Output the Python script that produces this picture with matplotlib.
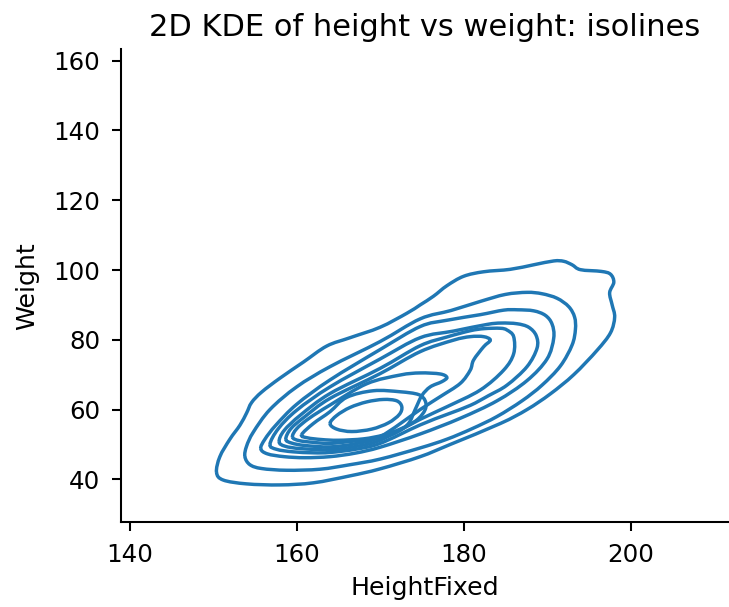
import matplotlib
matplotlib.use("Agg")
import matplotlib.pyplot as plt
import numpy as np
from matplotlib.path import Path
from matplotlib.patches import PathPatch

# isoline vertices (HeightFixed, Weight), outermost level first
level1_x = [150.4, 151.2, 154.0, 158.0, 162.0, 166.4, 170.0, 174.8, 178.4, 184.4, 187.6, 190.4, 193.2, 196.0,
            197.6, 198.1, 197.8, 197.5, 198.0, 197.6, 196.5, 194.0, 193.0, 192.0, 190.8, 188.4, 185.6, 182.4,
            180.0, 178.0, 176.4, 174.8, 173.2, 170.0, 166.4, 163.6, 160.8, 158.0, 155.8, 154.6, 154.0, 153.2,
            152.0, 150.8, 150.4]
level1_y = [42.0, 39.8, 38.7, 38.4, 39.0, 41.0, 43.0, 46.5, 50.0, 56.0, 60.0, 64.5, 70.0, 77.0,
            82.0, 86.5, 90.0, 93.5, 96.5, 98.8, 99.6, 100.1, 101.5, 102.5, 102.6, 101.5, 100.2, 99.5,
            98.2, 95.5, 92.5, 90.0, 87.6, 83.6, 80.6, 78.2, 73.6, 69.0, 65.0, 62.0, 59.0, 55.5,
            51.5, 46.5, 42.0]

level2_x = [153.8, 154.4, 155.8, 158.8, 162.8, 166.4, 170.0, 174.8, 178.0, 181.0, 184.0, 187.0, 189.4, 191.6,
            193.0, 193.4, 193.3, 192.6, 191.2, 189.4, 187.6, 185.0, 182.0, 178.5, 174.8, 170.0, 164.0, 160.0,
            156.8, 154.8, 154.0, 153.8]
level2_y = [46.5, 44.2, 43.1, 42.6, 42.9, 44.2, 45.8, 49.0, 51.5, 54.5, 58.0, 62.5, 67.0, 72.5,
            78.5, 83.0, 86.5, 89.5, 91.9, 93.2, 93.6, 93.0, 91.0, 88.4, 86.0, 79.5, 72.3, 66.5,
            60.0, 53.5, 49.5, 46.5]

level3_x = [155.7, 156.5, 158.5, 161.0, 164.0, 167.0, 170.0, 174.8, 179.6, 184.0, 187.6, 190.0, 190.8, 190.6,
            189.8, 188.4, 186.5, 184.8, 182.0, 178.0, 174.8, 170.0, 164.0, 160.0, 157.5, 156.2, 155.7]
level3_y = [48.8, 47.3, 46.5, 46.2, 46.5, 47.5, 49.2, 53.0, 57.5, 62.5, 68.3, 74.5, 80.5, 84.5,
            87.0, 88.3, 88.6, 88.5, 87.2, 85.6, 83.8, 77.2, 68.5, 61.5, 55.5, 51.5, 48.8]

level4_x = [156.8, 157.6, 159.5, 162.0, 164.0, 167.0, 170.0, 174.8, 178.0, 180.8, 183.0, 185.2, 187.6, 188.8,
            188.7, 187.8, 186.4, 184.5, 182.8, 178.8, 174.8, 170.0, 164.0, 160.0, 157.8, 156.8]
level4_y = [50.0, 48.6, 47.9, 47.6, 47.7, 48.6, 50.3, 55.6, 58.6, 61.2, 64.0, 67.0, 72.3, 77.6,
            81.2, 83.6, 84.6, 84.8, 84.4, 82.5, 80.6, 74.5, 66.5, 59.8, 54.5, 50.0]

level5_x = [157.9, 158.6, 160.5, 164.0, 167.0, 170.0, 174.8, 178.0, 182.0, 184.8, 186.0, 186.0, 185.2, 184.4,
            182.5, 180.8, 178.0, 174.8, 170.0, 164.0, 160.5, 158.5, 157.9]
level5_y = [50.8, 49.5, 48.8, 48.5, 49.4, 51.2, 57.2, 60.8, 65.6, 71.3, 76.0, 80.9, 82.8, 83.3,
            83.2, 82.6, 80.8, 78.3, 71.8, 64.6, 58.5, 54.0, 50.8]

level6_x = [158.7, 159.4, 161.0, 164.0, 167.0, 170.0, 174.8, 177.2, 179.6, 180.8, 181.2, 182.4, 183.2, 182.4,
            180.8, 178.8, 174.8, 170.0, 164.0, 161.0, 159.3, 158.7]
level6_y = [51.5, 50.4, 49.7, 49.3, 50.2, 52.2, 60.0, 63.7, 67.5, 71.3, 74.2, 78.0, 79.9, 80.9,
            80.9, 79.9, 76.6, 70.3, 63.2, 58.0, 54.5, 51.5]

level7_x = [159.5, 160.3, 162.0, 164.0, 167.0, 170.0, 172.0, 173.4, 174.2, 175.0, 176.0, 177.4, 178.0, 177.2,
            174.8, 172.4, 168.4, 164.0, 161.5, 160.0, 159.5]
level7_y = [52.1, 51.1, 50.6, 50.3, 51.0, 51.8, 53.5, 56.0, 60.0, 64.0, 66.5, 68.0, 69.2, 70.2,
            70.5, 69.9, 67.4, 61.3, 57.5, 54.5, 52.1]

level8_x = [160.6, 161.3, 163.0, 165.0, 168.0, 170.4, 172.5, 174.4, 175.4, 175.4, 174.6, 172.4, 169.2, 166.0,
            164.0, 162.0, 160.6]
level8_y = [52.8, 51.9, 51.4, 51.2, 51.6, 52.7, 54.5, 57.0, 60.0, 62.5, 64.3, 65.1, 65.4, 63.5,
            59.4, 56.0, 52.8]

level9_x = [164.0, 164.8, 166.4, 168.4, 170.4, 172.0, 172.6, 172.3, 171.0, 169.0, 166.6, 164.8, 164.0]
level9_y = [56.0, 58.3, 60.6, 62.2, 62.9, 62.5, 60.8, 58.6, 56.2, 54.4, 53.7, 54.4, 56.0]

levels = [
    (level1_x, level1_y), (level2_x, level2_y), (level3_x, level3_y),
    (level4_x, level4_y), (level5_x, level5_y), (level6_x, level6_y),
    (level7_x, level7_y), (level8_x, level8_y), (level9_x, level9_y),
]


# smooth closed curve through the read vertices (Catmull-Rom as cubic Beziers)
def closed_curve(xs, ys):
    p = np.column_stack([xs, ys])[:-1]
    n = len(p)
    verts = [p[0]]
    codes = [Path.MOVETO]
    for i in range(n):
        p0, p1, p2, p3 = p[i - 1], p[i], p[(i + 1) % n], p[(i + 2) % n]
        verts += [p1 + (p2 - p0) / 6, p2 - (p3 - p1) / 6, p2]
        codes += [Path.CURVE4] * 3
    return Path(verts, codes)


dpi = 165
plt.rcParams["xtick.major.size"] = 4
plt.rcParams["ytick.major.size"] = 4
plt.rcParams["xtick.major.pad"] = 5
plt.rcParams["ytick.major.pad"] = 5
plt.rcParams["axes.linewidth"] = 0.9

fig = plt.figure(figsize=(729 / dpi, 607 / dpi), dpi=dpi)
ax = fig.add_axes([120.7 / 729, 85 / 607, (729 - 120.7) / 729, (522 - 49.3) / 607])

for xs, ys in levels:
    ax.add_patch(PathPatch(closed_curve(xs, ys), fill=False, edgecolor="#1f77b4", lw=1.5))

ax.set_xlim(138.92, 211.8)
ax.set_ylim(27.77, 163.27)
ax.set_xticks([140, 160, 180, 200])
ax.set_yticks([40, 60, 80, 100, 120, 140, 160])
ax.tick_params(labelsize=10.7, width=0.9)
ax.spines["top"].set_visible(False)
ax.spines["right"].set_visible(False)

ax.set_xlabel("HeightFixed", fontsize=11)
ax.set_ylabel("Weight", fontsize=11, labelpad=6)
ax.set_title("2D KDE of height vs weight: isolines", fontsize=13.3)

fig.savefig("out.png", dpi=dpi)
